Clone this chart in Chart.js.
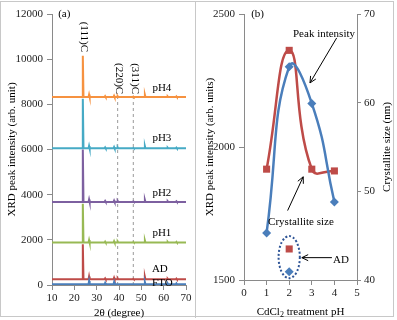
<!DOCTYPE html>
<html>
<head>
<meta charset="utf-8">
<script src="https://cdn.jsdelivr.net/npm/chart.js@4.4.0/dist/chart.umd.min.js"></script>
<style>
  body { margin: 0; background: #fff; }
  #wrap { position: relative; width: 397px; height: 320px; }
  #frame { position: absolute; left: 0; top: 1px; width: 394px; height: 316px; border: 1px solid #c8c8c8; box-sizing: border-box; }
  #divider { position: absolute; left: 195px; top: 1px; width: 1px; height: 317px; background: #c8c8c8; }
  #chartA { position: absolute; left: 0; top: 0; }
  #chartB { position: absolute; left: 196px; top: 0; }
</style>
</head>
<body>
<div id="wrap">
  <div id="frame"></div>
  <div id="divider"></div>
  <canvas id="chartA" width="196" height="320"></canvas>
  <canvas id="chartB" width="201" height="320"></canvas>
</div>
<script>
// ---- (a) XRD patterns ----
const twoTheta = [10, 20, 23.5, 23.8, 24.1, 26.35, 26.6, 26.85, 30, 33.55, 33.8, 34.05, 37.55, 37.8, 38.05, 39.15, 39.4, 39.65, 46.15, 46.4, 46.65, 51.35, 51.6, 51.85, 56, 61.55, 61.8, 62.05, 65.45, 65.7, 65.95, 70];
const xrdFTO = [30, 30, 30, 30, 30, 30, 180, 30, 30, 30, 90, 30, 30, 130, 30, 30, 30, 30, 30, 30, 30, 30, 120, 30, 30, 30, 70, 30, 30, 70, 30, 30];
const xrdAD  = [250, 250, 250, 1800, 250, 250, 380, 250, 250, 250, 290, 250, 250, 320, 250, 250, 290, 250, 250, 270, 250, 250, 360, 250, 250, 250, 280, 250, 250, 280, 250, 250];
const xrdPH1 = [1880, 1880, 1880, 3600, 1880, 1880, 1990, 1880, 1880, 1880, 1920, 1880, 1880, 1940, 1880, 1880, 1920, 1880, 1880, 1900, 1880, 1880, 1970, 1880, 1880, 1880, 1910, 1880, 1880, 1910, 1880, 1880];
const xrdPH2 = [3680, 3680, 3680, 6000, 3680, 3680, 3790, 3680, 3680, 3680, 3720, 3680, 3680, 3740, 3680, 3680, 3720, 3680, 3680, 3700, 3680, 3680, 3770, 3680, 3680, 3680, 3710, 3680, 3680, 3710, 3680, 3680];
const xrdPH3 = [6050, 6050, 6050, 8250, 6050, 6050, 6160, 6050, 6050, 6050, 6090, 6050, 6050, 6110, 6050, 6050, 6090, 6050, 6050, 6070, 6050, 6050, 6150, 6050, 6050, 6050, 6080, 6050, 6050, 6080, 6050, 6050];
const xrdPH4 = [8320, 8320, 8320, 10150, 8320, 8320, 8430, 8320, 8320, 8320, 8360, 8320, 8320, 8380, 8320, 8320, 8360, 8320, 8320, 8340, 8320, 8320, 8420, 8320, 8320, 8320, 8350, 8320, 8320, 8350, 8320, 8320];
const refLines = [39.4, 46.4];
const refTop = 8300;

// ---- (b) CdCl2 treatment ----
const treatPH = [1, 2, 3, 4];
const peakIntensity = [1677, 2302, 2164, 1793];
const crystalliteSize = [52.5, 65.9, 52.5, 52.3];
const adPH = 2;
const adIntensity = 1531;
const adSize = 43.5;

const serif = 'Liberation Serif';
const tickFont = { family: serif, size: 11 };
const axisGrey = '#8a8a8a';
const textColor = '#222';
const plain = v => String(v);

function pts(xs, ys) { return xs.map((x, i) => ({ x: x, y: ys[i] })); }

function xrdSet(label, data, color) {
  return { label: label, data: pts(twoTheta, data), borderColor: color, borderWidth: 2, pointRadius: 0, tension: 0, order: 1 };
}

const refSets = refLines.map(t => ({
  data: [{ x: t, y: 0 }, { x: t, y: refTop }],
  borderColor: '#9a9a9a', borderWidth: 1, borderDash: [3, 3], pointRadius: 0, order: 2
}));

const labelsA = {
  id: 'labelsA',
  afterDraw(chart) {
    const ctx = chart.ctx, xs = chart.scales.x, ys = chart.scales.y, a = chart.chartArea;
    const px = v => xs.getPixelForValue(v), py = v => ys.getPixelForValue(v);
    ctx.save();
    ctx.fillStyle = '#000';
    ctx.font = '11px ' + serif;
    ctx.textAlign = 'center';
    ctx.textBaseline = 'middle';
    ctx.fillText('(a)', px(15.5), py(12000));
    [['pH4', 59.2, 8700], ['pH3', 59.2, 6516], ['pH2', 59.2, 4076], ['pH1', 59.2, 2284], ['AD', 58.3, 698], ['FTO', 59.4, 89]]
      .forEach(l => ctx.fillText(l[0], px(l[1]), py(l[2])));
    [['(111)C', 24.1, 10990], ['(220)C', 40.0, 9140], ['(311)C', 47.2, 9140]].forEach(l => {
      ctx.save();
      ctx.translate(px(l[1]), py(l[2]));
      ctx.rotate(Math.PI / 2);
      ctx.fillText(l[0], 0, 0);
      ctx.restore();
    });
    ctx.fillText('2\u03b8 (degree)', (a.left + a.right) / 2, 313);
    ctx.save();
    ctx.translate(12, (a.top + a.bottom) / 2);
    ctx.rotate(-Math.PI / 2);
    ctx.fillText('XRD peak intensity (arb. unit)', 0, 0);
    ctx.restore();
    ctx.restore();
  }
};

new Chart(document.getElementById('chartA'), {
  type: 'line',
  data: {
    datasets: [
      xrdSet('FTO', xrdFTO, '#4A7EBB'),
      xrdSet('AD', xrdAD, '#BE4B48'),
      xrdSet('pH1', xrdPH1, '#98B954'),
      xrdSet('pH2', xrdPH2, '#7D60A0'),
      xrdSet('pH3', xrdPH3, '#46AAC5'),
      xrdSet('pH4', xrdPH4, '#F69240')
    ].concat(refSets)
  },
  options: {
    responsive: false,
    animation: false,
    layout: { padding: { top: 14, right: 10, left: 0, bottom: 0 } },
    plugins: { legend: { display: false }, tooltip: { enabled: false } },
    scales: {
      x: {
        type: 'linear', min: 10, max: 70,
        ticks: { stepSize: 10, font: tickFont, color: textColor, padding: 2, maxRotation: 0, callback: plain },
        grid: { drawOnChartArea: false, tickLength: 5, color: axisGrey },
        border: { color: axisGrey },
        afterFit: s => { s.height = 35; }
      },
      y: {
        min: 0, max: 12000,
        ticks: { stepSize: 2000, font: tickFont, color: textColor, padding: 4, callback: plain },
        grid: { drawOnChartArea: false, tickLength: 5, color: axisGrey },
        border: { color: axisGrey },
        afterFit: s => { s.width = 52; }
      }
    }
  },
  plugins: [labelsA]
});

// ---- (b) ----
function arrow(ctx, x1, y1, x2, y2) {
  const ang = Math.atan2(y2 - y1, x2 - x1), h = 7;
  ctx.beginPath();
  ctx.moveTo(x1, y1);
  ctx.lineTo(x2, y2);
  ctx.moveTo(x2 - h * Math.cos(ang - 0.45), y2 - h * Math.sin(ang - 0.45));
  ctx.lineTo(x2, y2);
  ctx.lineTo(x2 - h * Math.cos(ang + 0.45), y2 - h * Math.sin(ang + 0.45));
  ctx.stroke();
}

const labelsB = {
  id: 'labelsB',
  beforeDatasetsDraw(chart) {
    const ctx = chart.ctx, xs = chart.scales.x, ys = chart.scales.y;
    // dotted ellipse round the AD points
    const cx = xs.getPixelForValue(adPH), cy = ys.getPixelForValue(1586);
    const rx = xs.getPixelForValue(adPH + 0.47) - cx, ry = ys.getPixelForValue(1586) - ys.getPixelForValue(1665);
    ctx.save();
    ctx.strokeStyle = '#2F5597';
    ctx.lineWidth = 2;
    ctx.setLineDash([2, 2]);
    ctx.beginPath();
    ctx.ellipse(cx, cy, rx, ry, 0, 0, Math.PI * 2);
    ctx.stroke();
    ctx.restore();
  },
  afterDraw(chart) {
    const ctx = chart.ctx, xs = chart.scales.x, ys = chart.scales.y, a = chart.chartArea;
    const px = v => xs.getPixelForValue(v), py = v => ys.getPixelForValue(v);
    ctx.save();
    ctx.fillStyle = '#000';
    ctx.strokeStyle = '#000';
    ctx.lineWidth = 1;
    ctx.font = '11px ' + serif;
    ctx.textAlign = 'center';
    ctx.textBaseline = 'middle';
    ctx.fillText('(b)', px(0.6), py(2500));
    ctx.fillText('Peak intensity', px(3.54), py(2425));
    ctx.fillText('Crystallite size', px(2.52), py(1719));
    ctx.fillText('AD', px(4.29), py(1575));
    arrow(ctx, px(4.10), py(2410), px(2.92), py(2241));
    arrow(ctx, px(1.93), py(1761), px(2.62), py(1888));
    arrow(ctx, px(3.89), py(1584), px(2.56), py(1584));
    // axis titles
    ctx.save();
    ctx.translate(14, (a.top + a.bottom) / 2);
    ctx.rotate(-Math.PI / 2);
    ctx.fillText('XRD peak intensity (arb. units)', 0, 0);
    ctx.restore();
    ctx.save();
    ctx.translate(191, (a.top + a.bottom) / 2);
    ctx.rotate(-Math.PI / 2);
    ctx.fillText('Crystallite size (nm)', 0, 0);
    ctx.restore();
    // CdCl2 treatment pH with subscript
    const p1 = 'CdCl', p2 = '2', p3 = ' treatment pH';
    ctx.font = '11px ' + serif;
    const w1 = ctx.measureText(p1).width, w3 = ctx.measureText(p3).width;
    ctx.font = '8px ' + serif;
    const w2 = ctx.measureText(p2).width;
    let x0 = (a.left + a.right) / 2 - (w1 + w2 + w3) / 2;
    ctx.textAlign = 'left';
    ctx.font = '11px ' + serif;
    ctx.fillText(p1, x0, 312);
    ctx.font = '8px ' + serif;
    ctx.fillText(p2, x0 + w1, 315);
    ctx.font = '11px ' + serif;
    ctx.fillText(p3, x0 + w1 + w2, 312);
    ctx.restore();
  }
};

new Chart(document.getElementById('chartB'), {
  type: 'line',
  data: {
    datasets: [
      { label: 'Peak intensity', data: pts(treatPH, peakIntensity), yAxisID: 'y', borderColor: '#4A7EBB', backgroundColor: '#4A7EBB',
        borderWidth: 2.5, tension: 0.5, pointStyle: 'rectRot', pointRadius: 4.5, pointBorderWidth: 0 },
      { label: 'Crystallite size', data: pts(treatPH, crystalliteSize), yAxisID: 'y2', borderColor: '#BE4B48', backgroundColor: '#BE4B48',
        borderWidth: 2.5, tension: 0.5, pointStyle: 'rect', pointRadius: 5, pointBorderWidth: 0 },
      { label: 'AD intensity', data: [{ x: adPH, y: adIntensity }], yAxisID: 'y', showLine: false, backgroundColor: '#4A7EBB',
        pointStyle: 'rectRot', pointRadius: 4.5, pointBorderWidth: 0 },
      { label: 'AD size', data: [{ x: adPH, y: adSize }], yAxisID: 'y2', showLine: false, backgroundColor: '#BE4B48',
        pointStyle: 'rect', pointRadius: 5, pointBorderWidth: 0 }
    ]
  },
  options: {
    responsive: false,
    animation: false,
    layout: { padding: { top: 14, right: 0, left: 0, bottom: 0 } },
    plugins: { legend: { display: false }, tooltip: { enabled: false } },
    scales: {
      x: {
        type: 'linear', min: 0, max: 5,
        ticks: { stepSize: 1, font: tickFont, color: textColor, padding: 2, maxRotation: 0, callback: plain },
        grid: { drawOnChartArea: false, tickLength: 5, color: axisGrey },
        border: { color: axisGrey },
        afterFit: s => { s.height = 40; }
      },
      y: {
        position: 'left', min: 1500, max: 2500,
        ticks: { stepSize: 500, font: tickFont, color: textColor, padding: 4, callback: plain },
        grid: { drawOnChartArea: false, tickLength: 5, color: axisGrey },
        border: { color: axisGrey },
        afterFit: s => { s.width = 48; }
      },
      y2: {
        position: 'right', min: 40, max: 70,
        ticks: { stepSize: 10, font: tickFont, color: textColor, padding: 3, callback: plain },
        grid: { drawOnChartArea: false, tickLength: 4, color: axisGrey },
        border: { color: axisGrey },
        afterFit: s => { s.width = 40; }
      }
    }
  },
  plugins: [labelsB]
});
</script>
</body>
</html>
